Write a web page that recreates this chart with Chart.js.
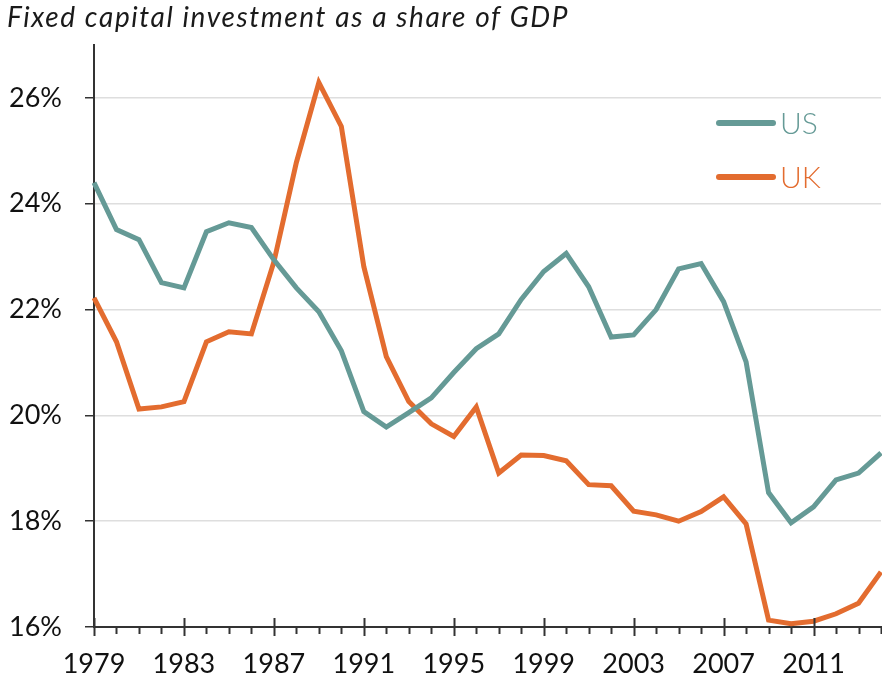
<!DOCTYPE html>
<html>
<head>
<meta charset="utf-8">
<style>
  html, body { margin: 0; padding: 0; background: #fff; }
  #wrap { width: 882px; height: 678px; }
</style>
<script src="https://cdn.jsdelivr.net/npm/chart.js@4.4.7/dist/chart.umd.min.js"></script>
</head>
<body>
<div id="wrap"><canvas id="chart" width="882" height="678"></canvas></div>
<script>
const years = []
for (let y = 1979; y <= 2014; y++) years.push(String(y))

const usValues = [
  24.40, 23.51, 23.32, 22.51, 22.41, 23.47, 23.64, 23.55, 22.94, 22.41,
  21.96, 21.22, 20.07, 19.78, 20.05, 20.33, 20.81, 21.26, 21.54, 22.19,
  22.72, 23.06, 22.43, 21.48, 21.52, 22.00, 22.77, 22.87, 22.15, 21.01,
  18.54, 17.97, 18.27, 18.78, 18.91, 19.29
]
const ukValues = [
  22.22, 21.39, 20.12, 20.16, 20.26, 21.39, 21.58, 21.54, 22.90, 24.78,
  26.29, 25.46, 22.81, 21.11, 20.26, 19.84, 19.60, 20.16, 18.91, 19.25,
  19.24, 19.14, 18.69, 18.67, 18.19, 18.12, 18.00, 18.18, 18.46, 17.95,
  16.13, 16.06, 16.11, 16.25, 16.45, 17.04
]
const yTicks = [16, 18, 20, 22, 24, 26]

const TEAL = "#659a96"
const ORANGE = "#e36c2f"
const AXIS = "#333333"
const FONT = "Lato, 'Open Sans', sans-serif"

const series = [
  { label: "US", data: usValues, color: TEAL },
  { label: "UK", data: ukValues, color: ORANGE }
]

// title, year ticks and the legend are drawn by hand
const decor = {
  id: "decor",
  afterDraw(chart) {
    const ctx = chart.ctx
    const x = chart.scales.x
    const bottom = chart.chartArea.bottom

    ctx.save()
    ctx.fillStyle = "#1a1a1a"
    ctx.font = `italic 28px ${FONT}`
    ctx.letterSpacing = "1.6px"
    ctx.textBaseline = "middle"
    ctx.textAlign = "left"
    ctx.fillText("Fixed capital investment as a share of GDP", 7, 18)
    ctx.letterSpacing = "0px"

    ctx.strokeStyle = AXIS
    ctx.lineWidth = 2
    years.forEach((yr, i) => {
      const px = Math.round(x.getPixelForValue(i)) + 0.5
      const major = (Number(yr) - 1979) % 4 === 0
      ctx.beginPath()
      ctx.moveTo(px, major ? bottom - 9 : bottom)
      ctx.lineTo(px, major ? bottom + 9 : bottom + 7)
      ctx.stroke()
    })

    series.forEach((s, i) => {
      const ly = 123 + i * 54
      ctx.strokeStyle = s.color
      ctx.lineWidth = 6
      ctx.lineCap = "round"
      ctx.beginPath()
      ctx.moveTo(719, ly)
      ctx.lineTo(773, ly)
      ctx.stroke()
      ctx.fillStyle = s.color
      ctx.font = `300 30px ${FONT}`
      ctx.textBaseline = "middle"
      ctx.fillText(s.label, 780, ly + 1)
    })
    ctx.restore()
  }
}

new Chart(document.getElementById("chart"), {
  type: "line",
  data: {
    labels: years,
    datasets: series.map(s => ({
      label: s.label,
      data: s.data,
      borderColor: s.color,
      backgroundColor: s.color,
      borderWidth: 5,
      pointRadius: 0,
      tension: 0
    }))
  },
  options: {
    responsive: false,
    animation: false,
    layout: { padding: { top: 45, right: 1, left: 0, bottom: 0 } },
    plugins: {
      legend: { display: false },
      tooltip: { enabled: false }
    },
    scales: {
      x: {
        offset: false,
        grid: { display: false, drawTicks: false },
        border: { display: true, color: AXIS, width: 2 },
        ticks: {
          autoSkip: false,
          maxRotation: 0,
          padding: 21,
          color: "#111",
          font: { family: FONT, size: 27 },
          callback: function(value) {
            const yr = Number(years[value])
            return (yr - 1979) % 4 === 0 ? String(yr) : null
          }
        },
        afterFit: (scale) => { scale.height = 51 }
      },
      y: {
        min: 16,
        max: 27,
        afterBuildTicks: (scale) => {
          scale.ticks = yTicks.map(v => ({ value: v }))
        },
        grid: { color: "#dedede", lineWidth: 1.5, tickColor: AXIS, tickLength: 9 },
        border: { display: true, color: AXIS, width: 2 },
        ticks: {
          padding: 23,
          color: "#111",
          font: { family: FONT, size: 27 },
          callback: (value) => value + "%"
        },
        afterFit: (scale) => { scale.width = 94 }
      }
    }
  },
  plugins: [decor]
})
</script>
</body>
</html>
